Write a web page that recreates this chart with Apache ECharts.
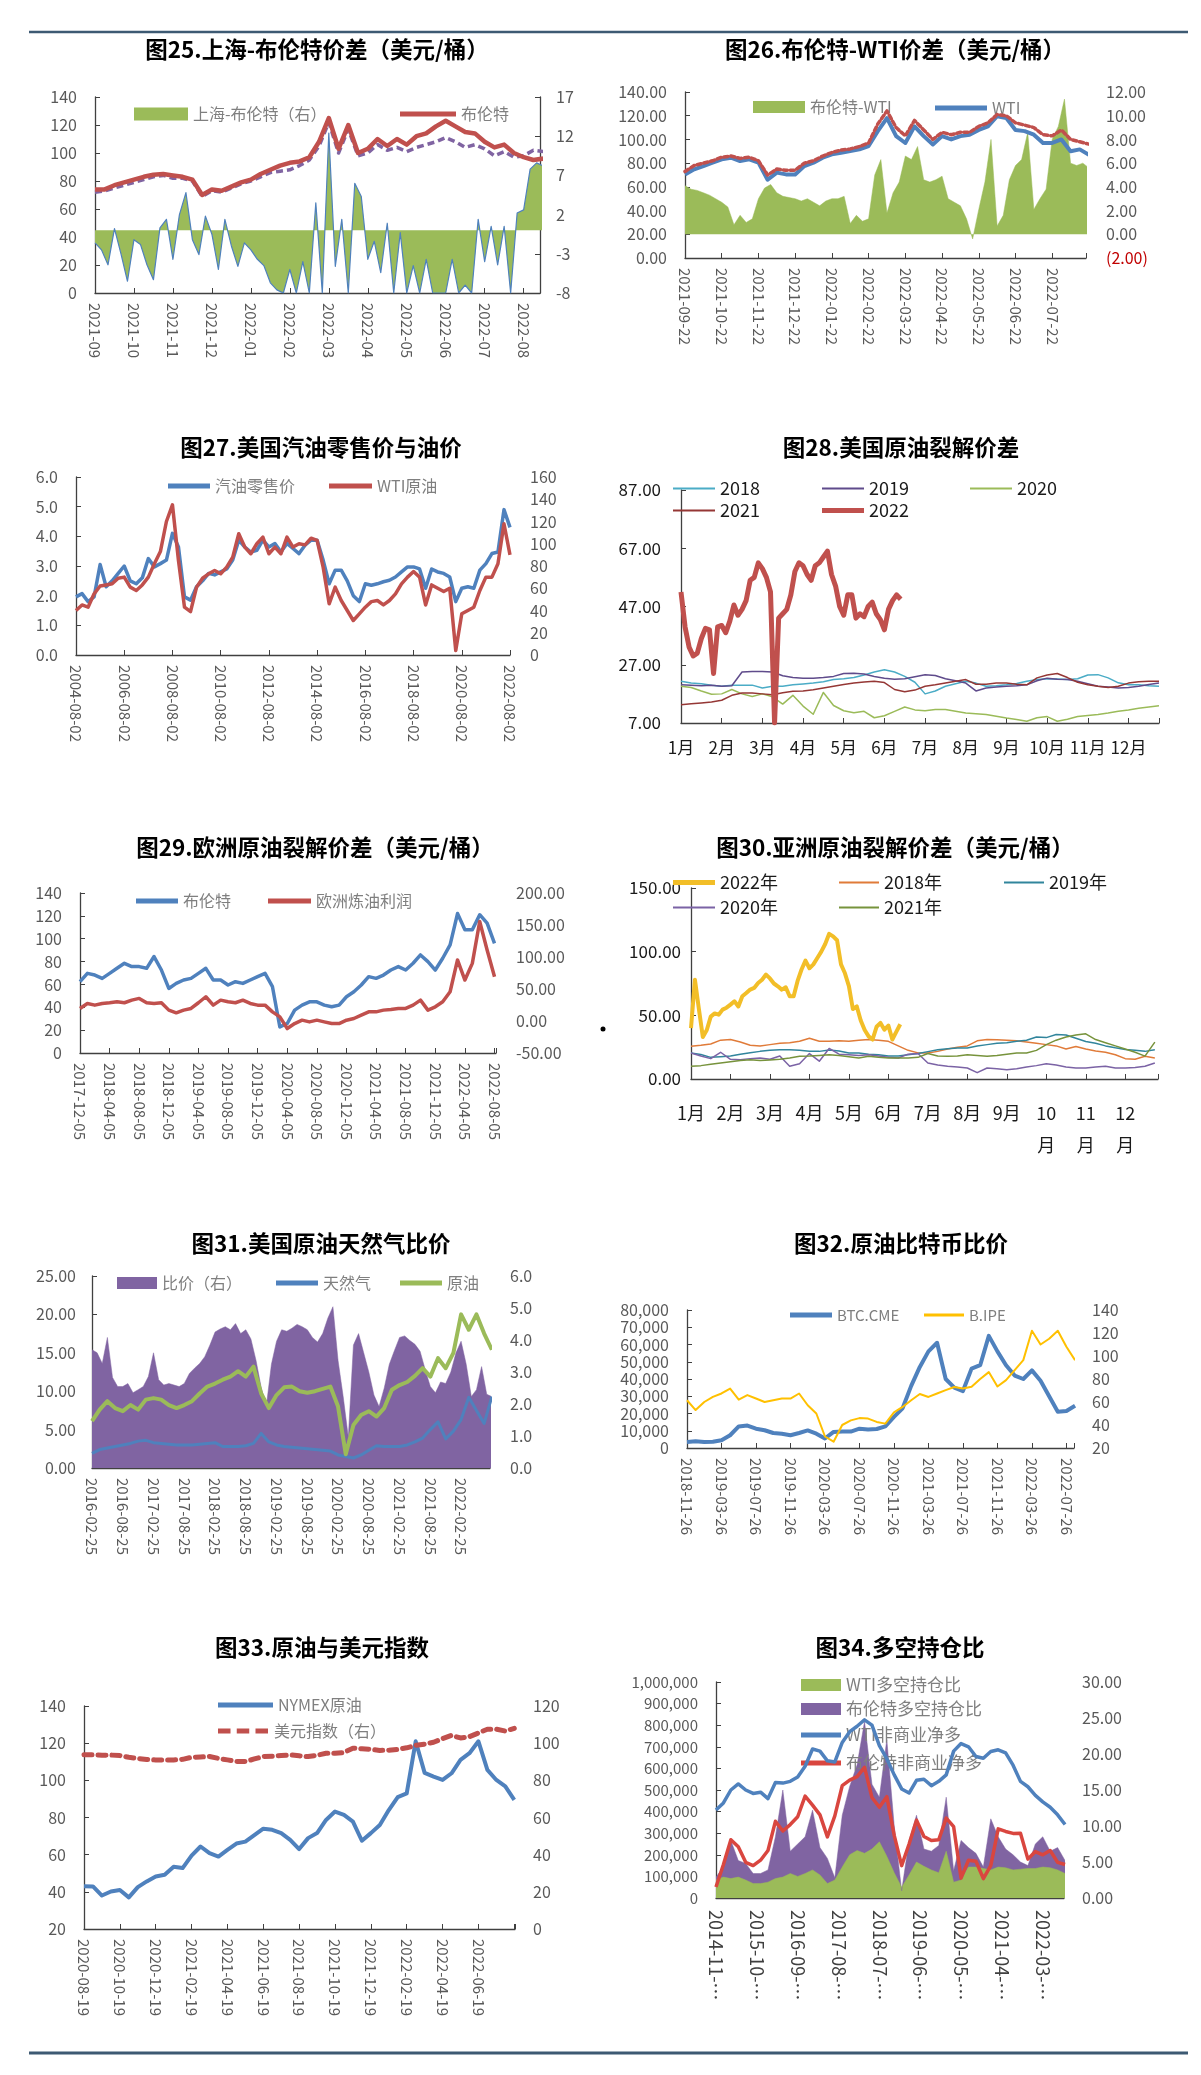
<!DOCTYPE html>
<html><head><meta charset="utf-8">
<script src="https://cdn.jsdelivr.net/npm/echarts@6/dist/echarts.min.js"></script>
<style>html,body{margin:0;padding:0;background:#fff}#c{width:1201px;height:2075px}</style>
</head><body><div id="c"></div>
<script>
// ================= DATA =================
// Chart 25 (x unit = 1 month from 2021-09)
const c25Labels = ['2021-09','2021-10','2021-11','2021-12','2022-01','2022-02','2022-03','2022-04','2022-05','2022-06','2022-07','2022-08'];
const c25Brent = [74,74,77,79,81,83,84.5,85,84,83,81,70,74,73,76,79,81,85,88,91,93,94,97,108,125,103,120,100,103,110,105,110,106,112,114,119,123,119,115,114,108,104,106,100,97,95,96]; // step 0.25
const c25Shanghai = [72,73,75,77,79,81,83,84,82,82,80,69,73,72,75,78,80,83,86,87,88,91,95,105,122,100,117,98,100,106,102,104,101,104,106,108,111,108,104,106,103,98,101,97,98,102,101]; // step 0.25
const c25Spread = [-1.6,-2.5,-4.4,0.2,-3,-6.5, -1.2,-1.8,-4.4,-6.3,0.3,1.4, -3.7,2,4.8,-1.2,-3.1,1.8, -0.5,-5,1.4,-2,-4.6,-1.6,
  -2.5,-3.7,-4.5,-6.7,-7.6,-8, -5,-8,-4,-8,3.5,-8, 12.4,-4.6,1.4,-8,6,4.3, -3.7,-1.4,-5.4,0.9,-8,-0.3,
  -8,-4.5,-8,-3.7,-8,-8, -8,-3.7,-8,-7,-8,1.4, -4,0.5,-4.4,0.5,-8,2.2, 2.6,7.8,8.6,8.2]; // step 1/6

// Chart 26
const c26Labels = ['2021-09-22','2021-10-22','2021-11-22','2021-12-22','2022-01-22','2022-02-22','2022-03-22','2022-04-22','2022-05-22','2022-06-22','2022-07-22'];
const c26WTI = [70.5,74.8,77.5,80.4,83.2,84.6,81.8,83.2,80.4,66,72,70.5,70.5,77.5,80.4,84.6,87.4,88.8,90.2,91.6,94.4,107,118,102.8,97,111,102.8,95.8,102.8,100,102.8,104,108,111,119.6,118,108,107,104,97,97,100,90,91.6,87];
const c26Brent = [73,78,80,82,85,86,84,85,82,70,75,74,74,80,82,86,89,91,92,94,97,113,124,110,103,116,108,100,106,104,106,106,111,114,121,120,114,112,110,104,103,108,100,98,96];
const c26Spread = [4.1,3.8,3.7,3.5,3.3,3,2.7,2.3,0.8,1.6,1,1.3,3,3.9,4.2,3.5,3.2,3.1,3,2.8,3,2.7,2.4,2.8,3,3,3.2,0.9,1.6,1.1,1.3,5,6.3,1.8,3.5,4.4,6.6,6.3,7.4,4.6,4.4,4.6,4.9,3,2.7,2.4,1.3,-0.4,2.1,4.4,8,0.7,1.6,4.6,5.8,6.3,8.6,2.1,3,3.8,8,9.1,11.4,6,5.8,6,5.6];

// Chart 27 (x unit = 2 years, data quarterly)
const c27Labels = ['2004-08-02','2006-08-02','2008-08-02','2010-08-02','2012-08-02','2014-08-02','2016-08-02','2018-08-02','2020-08-02','2022-08-02'];
const c27Gas = [1.96,2.07,1.8,1.96,3.05,2.3,2.5,2.75,3.0,2.5,2.4,2.6,3.25,2.97,3.08,3.2,4.1,3.64,1.96,1.85,2.3,2.5,2.75,2.7,2.8,2.9,3.2,3.87,3.64,3.47,3.53,3.87,3.64,3.76,3.47,3.76,3.59,3.42,3.7,3.87,3.87,3.2,2.4,2.86,2.86,2.5,2.0,1.8,2.4,2.35,2.4,2.47,2.52,2.63,2.8,2.97,2.97,2.9,2.25,2.9,2.8,2.75,2.63,1.8,2.25,2.3,2.25,2.86,3.08,3.42,3.47,4.9,4.3];
const c27WTI = [40,45,43,55,62,63,64,69,70,61,58,63,70,82,93,120,135,85,43,39,61,69,73,76,73,79,88,109,97,91,100,106,91,97,91,106,97,100,99,105,103,79,46,61,49,40,31,37,43,48,49,45,49,55,64,70,75,70,45,63,60,57,60,4,37,40,43,58,70,70,82,118,90];

// Chart 28 (x unit = month)
const c28Months = ['1月','2月','3月','4月','5月','6月','7月','8月','9月','10月','11月','12月'];
const c28y2018 = [21.3,20.7,20.5,20,19.6,20,20,20,19,19.6,19.6,20.1,20.4,20.7,21.2,21.9,22.2,22.6,23.5,24.5,25.3,24.5,23,21,17,18,19.6,20.5,21.3,20.7,19.6,19.8,20.1,20.6,21.3,21.9,22.2,22.1,21.9,22.2,23.5,23.6,22.5,20.8,20.1,20.1,19.8,19.6];
const c28y2019 = [20.1,20,19.8,20,19.6,19.8,24.5,24.7,24.7,24.5,23.2,22.6,22.4,22.4,22.6,23,24,24.1,23.8,23,22.4,22,22.2,22.9,23.6,23.3,22.2,21.5,20.7,18,19,19.4,19.6,19.8,20.1,21.5,22.4,22,21.9,21.3,20.5,19.6,19.4,19,19.2,19.6,20.2,20.7];
const c28y2020 = [19.6,19.2,18,16.9,17,18.5,17,16.1,17,16,13.5,16.5,12.8,10,17.5,13,11.2,10.5,11,8.8,9.5,11,12.5,11.5,11.2,11.6,11.6,11,10.4,10.2,9.9,9.3,8.7,8.2,7.6,8.8,9.2,7.6,8.3,9.2,9.6,9.9,10.4,11,11.5,12.1,12.5,12.9];
const c28y2021 = [13.3,13.6,13.9,14.2,14.8,16.5,17.3,17.3,17,16.7,17.4,17.9,18,18.4,19,19.6,20.2,20.7,21.1,21.3,20.9,18.5,17.7,18.3,19.6,20.1,20.7,21.3,21.9,20.3,20.3,20.7,20.7,20.3,20.1,22.5,23.5,24,22.6,21,20.1,19.6,19.2,19.6,20.7,21.2,21.3,21.3];
const c28y2022 = [52,40,33,30,31,36,39.5,39,24,40,40.5,38,42,47.5,44,46,49,56,57,62,60,57,52,7,43,44.5,46,51,59,62,61,58,56,61,62,64,66,58,54,47,44,51,51,43,44.5,43.5,47,48.5,44.5,42.5,39,46,49,51,49.5]; // step 0.1

// Chart 29 (x unit = 4 months, data monthly)
const c29Labels = ['2017-12-05','2018-04-05','2018-08-05','2018-12-05','2019-04-05','2019-08-05','2019-12-05','2020-04-05','2020-08-05','2020-12-05','2021-04-05','2021-08-05','2021-12-05','2022-04-05','2022-08-05'];
const c29Brent = [62.4,69.7,68.2,65.3,69.7,74.1,78.5,75.6,75.6,74.1,84.4,72.6,56.5,60.9,63.9,65.3,69.7,74.1,63.9,63.9,59.5,62.4,60.9,63.9,66.8,69.7,58,22.8,25.8,37.5,41.9,44.8,44.8,41.9,40.4,41.9,49.2,53.6,59.5,66.8,65.3,68.2,72.6,75.6,72.6,78.5,85.8,80,72.6,82.9,94.6,122,107.8,107.8,121,113.6,96];
const c29Margin = [19.6,27.4,24.8,27.4,28.5,30,28.5,32.6,35.3,28.5,27.4,28.5,17,12.8,17,19.6,28.5,37.9,24.8,32.6,30,28.5,32.6,27.4,24.8,24.8,14.3,6.5,-11.8,-4,1.3,-1.4,1.3,-1.4,-4,-4,1.3,3.9,9.1,14.3,14.3,17,18,19.6,19.6,24.8,32.6,17,22.2,30,45.7,95.4,64,90,155.5,111,69.2];

// Chart 30 (x unit = month)
const c30Months = ['1月','2月','3月','4月','5月','6月','7月','8月','9月','10\n月','11\n月','12\n月'];
const c30y2022 = [40,78,55,33,38.5,49,51.5,50.5,54.5,56,58.4,61,57,65,67.5,70.2,71.5,75.4,78,82,79,75,72.8,70.2,72,65,65,77,86,93,87,90,95,100,106,114,112,109,90,83,73,55,57,46,38.5,33.5,31,41,44,38.7,42,31,37,43]; // step 0.1
const c30y2018 = [25.7,26.5,27.5,30.5,31,29,26.5,26,27,28,28.5,29.6,32,29.6,29.6,30,29.6,30.5,31,30.5,29.6,26,22.5,20.5,20.4,21.7,23.5,25,26,30,31,30.9,30.5,30,29,28,27,26,23.5,25.5,23.5,22,21,19,16,15.5,17.8,16.5];
const c30y2019 = [20.4,19.3,17,17.5,18,19.5,20.6,21.7,22.5,23,23,22.5,21.7,21.7,22.8,22,20.4,20.4,19.5,19,18,18,19,20,21.5,23,23.8,24.3,24.3,26,27,28,28.5,29.6,30.5,33,32.5,35,34.5,32,29.5,28,26,24.5,23.2,22.5,21.7,23];
const c30y2020 = [20.4,18,16,21,15.5,15.2,16,16.5,15.5,18,10,12,20,14,24,19.5,19,18.5,19,18,17,16.5,19.5,20,12.6,11,10,9.5,8.6,5,8.6,8,7.3,8,9.5,10.5,12,11,9.5,8.6,8.6,9.5,10,8.6,8.6,9,10,12.6];
const c30y2021 = [10,10.5,11.5,12.6,13.5,14.5,15.2,14.5,15,15.5,16.5,17.8,18,18.5,19,18.5,17.5,16.5,17.8,17,16.5,16.5,16.5,17,20,18,17.8,18,19,18.5,17.8,18.5,19.5,20.4,20.4,22.5,27,30.5,33,34.5,35.5,31,28.5,26,23.5,21,18,29];

// Chart 31 (x unit = 6 months)
const c31Labels = ['2016-02-25','2016-08-25','2017-02-25','2017-08-25','2018-02-25','2018-08-25','2019-02-25','2019-08-25','2020-02-25','2020-08-25','2021-02-25','2021-08-25','2022-02-25'];
const c31Ratio = [15.4,15,13.6,17,11.8,10.6,10.6,11,9.8,10.2,10.6,11.9,15,11.5,10.8,11,10.8,10.6,11,12.3,13,13.6,14.5,16,17.7,18.1,18.4,18,18.8,17.5,18,16.8,14,10.5,8,13.5,16.5,18,17.8,18.2,18.7,18.4,18,17,16.4,17.5,19.5,21,14,9.3,4,16,17.5,15,12.5,9.5,8,10.4,13.5,15.3,17,17.2,16.6,16.1,15.2,12.8,10.6,9.8,11.2,11,12.5,15,16.5,13.5,9.3,10.2,13.2,9.6,9.3]; // monthly
const c31Gas = [1.9,2.4,2.6,2.8,3,3.2,3.5,3.6,3.3,3.2,3.1,3,3,3,3.1,3.2,3.3,2.8,2.8,2.8,2.9,3.2,4.5,3.4,3,2.8,2.7,2.6,2.5,2.4,2.3,2.2,1.7,1.5,1.3,1.7,2.3,2.9,2.8,2.8,2.8,3,3.4,3.9,5,6,3.8,4.8,6.3,9.2,7.5,5.8,9.3];
const c31Oil = [6.1,7.6,8.7,7.8,7.4,8.2,7.6,8.9,9.1,8.9,8.2,7.8,8.2,8.7,9.7,10.6,11,11.5,11.9,12.6,11.9,13.2,9.7,7.8,9.5,10.5,10.6,10,9.8,10,10.3,10.6,8,1.8,5.6,6.9,7.4,6.7,7.8,10.2,10.8,11.2,12,13,11.9,14.3,13,15,20,18,20,17.5,15.4];

// Chart 32 (x unit = 4 months, data monthly)
const c32Labels = ['2018-11-26','2019-03-26','2019-07-26','2019-11-26','2020-03-26','2020-07-26','2020-11-26','2021-03-26','2021-07-26','2021-11-26','2022-03-26','2022-07-26'];
const c32BTC = [3500,3900,3500,3600,4500,7400,12500,13000,11200,10300,8700,8300,7400,8700,10200,8300,5500,9300,9600,9500,11200,10700,11000,12500,18000,23000,36000,47000,56000,61000,40000,35000,33000,46000,48000,65000,56000,48000,42000,40000,45000,39000,30000,21000,21500,24500];
const c32Brent = [61.5,53,60,64.4,67.4,71.7,62,66,63,60,61.5,63,63,67.4,57.2,50,30,25.5,40,44,46,45.6,42.7,41.2,51,55.7,61.5,67,64.4,67.4,70.3,73,71.7,73.2,80,86,73.5,79,87.7,96.4,122,110,115,122,108,96.4];

// Chart 33 (x unit = 2 months, data half-monthly)
const c33Labels = ['2020-08-19','2020-10-19','2020-12-19','2021-02-19','2021-04-19','2021-06-19','2021-08-19','2021-10-19','2021-12-19','2022-02-19','2022-04-19','2022-06-19'];
const c33Oil = [43,42.9,38,40.2,41,37,42.5,45.6,48.3,49.2,53.5,52.8,59.5,64.4,60.8,59,62.6,66,67,70.5,74,73.4,71.6,68,63,68.9,71.6,78.7,83.2,81.4,77.8,67.5,71.6,76,84,91,93,121,104,102,100.2,103.8,111,114.6,121,105.6,100.2,96.7,89.5];
const c33DXY = [93.7,93.8,93.5,93.6,93.3,92.4,91.8,91.2,91,91,91,91.3,92.4,92.6,92.8,91.8,91,90.2,90.1,91.5,92.8,93,93.3,93.7,93.2,92.8,93.5,94.6,94.6,95,97.3,97,96.7,96.1,96.2,96.7,97.5,98.8,99.5,100.5,102.4,104.2,102.8,103.5,105.5,107.5,107.5,106.5,108];

// Chart 34 (x unit = 11 months, data every 2 months)
const c34Labels = ['2014-11-…','2015-10-…','2016-09-…','2017-08-…','2018-07-…','2019-06-…','2020-05-…','2021-04-…','2022-03-…'];
const c34WTIRatio = [2.5,2.9,2.7,2.9,2.5,2,2,2.2,2.7,2.9,3.4,3,3.4,3.9,3.2,2,2.5,4.3,6,6.6,6.2,6.8,7.8,5.8,3.5,1.5,3.2,5,4.4,3.9,3.5,6.5,2.2,2.5,4.3,4.3,4.1,3.9,4.3,4.2,3.9,4,4.1,4.1,4.3,4.2,3.9,3.4];
const c34BrentRatio = [2.9,4.3,8,5.2,4.8,3.4,3.4,3.9,8.5,15,6.5,7.5,8.5,12.2,7,5.5,2.8,11.5,15.5,18.5,24.5,15.8,14,22,10,1,8,11.5,6.8,6.5,7.3,14,3.8,8,7,6.2,4.3,11,8.5,6.8,6,5,4.5,7.5,8.5,6.5,7,5.2];
const c34WTINet = [407000,440000,500000,528000,500000,484000,490000,460000,535000,532000,540000,560000,610000,690000,680000,635000,630000,720000,770000,795000,825000,800000,705000,645000,570000,505000,486000,545000,550000,520000,540000,570000,680000,715000,700000,655000,647000,678000,686000,672000,615000,540000,515000,475000,445000,420000,385000,340000];
const c34BrentNet = [51000,155000,270000,237000,165000,150000,175000,220000,355000,310000,340000,376000,472000,430000,385000,283000,380000,520000,546000,562000,605000,465000,420000,469000,290000,150000,250000,360000,285000,266000,270000,370000,330000,92000,175000,170000,90000,150000,320000,308000,299000,300000,180000,215000,200000,220000,165000,155000];

// ================= BUILD =================
const FONT = '"Noto Sans CJK SC", "Noto Sans", sans-serif';
const AX = '#404040', LBL = '#595959', DARK = '#1a1a1a', LEGC = '#7f7f7f';
const BLUE = '#4F81BD', RED = '#C0504D', GREEN = '#9BBB59', PURPLE = '#8064A2';
const opt = {animation: false, textStyle: {fontFamily: FONT}, grid: [], xAxis: [], yAxis: [], series: [], legend: [], graphic: []};

const xy = (arr, step) => arr.map((v, i) => [i * step, v]);
const labelFmt = labels => v => { const r = Math.round(v); return (Math.abs(v - r) < 1e-6 && labels[r] !== undefined) ? labels[r] : ''; };

function addGrid(left, top, width, height) { opt.grid.push({left, top, width, height, containLabel: false}); return opt.grid.length - 1; }
function addY(gi, pos, min, max, interval, o) {
  o = o || {};
  const showLine = !!o.line;
  opt.yAxis.push({type: 'value', gridIndex: gi, position: pos, min, max, interval,
    axisLine: {show: showLine, lineStyle: {color: AX, width: 1.3}},
    axisTick: {show: showLine, inside: true, length: 5, lineStyle: {color: AX}},
    splitLine: {show: false},
    axisLabel: {margin: o.margin || 16, fontSize: o.fs || 16, color: o.color || LBL, fontFamily: FONT, formatter: o.fmt}});
  return opt.yAxis.length - 1;
}
function addX(gi, max, fmt, o) {
  o = o || {};
  opt.xAxis.push({type: 'value', gridIndex: gi, min: 0, max, interval: 1,
    axisLine: {show: true, onZero: false, lineStyle: {color: AX, width: 1.3}},
    axisTick: {show: true, inside: true, length: 5, lineStyle: {color: AX}},
    splitLine: {show: false},
    axisLabel: {rotate: (o.rotate === undefined ? -90 : o.rotate), margin: o.margin || 10, fontSize: o.fs || 15,
      color: o.color || LBL, fontFamily: FONT, lineHeight: o.lh, formatter: fmt, showMaxLabel: true}});
}
function addLine(gi, yi, name, data, color, width, o) {
  o = o || {};
  const s = {type: 'line', name, xAxisIndex: gi, yAxisIndex: yi, data, symbol: 'none', showSymbol: false, silent: true,
    clip: true, z: o.z || 2, color: o.fill || color,
    lineStyle: {color, width, type: o.dash || 'solid', cap: o.cap || 'butt', join: 'round'}};
  if (o.area) s.areaStyle = {color: o.area, opacity: 1, origin: 'auto'};
  opt.series.push(s);
}
function leg(name, x, yc, w, h, icon, fs, color) {
  const bh = Math.max(h, Math.round(fs * 1.25));
  opt.legend.push({left: x, top: yc - bh / 2, padding: 0, itemGap: 0, itemWidth: w, itemHeight: h, selectedMode: false,
    data: [{name, icon}], formatter: n => n.split('#')[0],
    textStyle: {fontSize: fs, color, fontFamily: FONT}, itemStyle: {borderWidth: 0}});
}
function title(text, cx, cy) {
  opt.graphic.push({type: 'text', x: cx, y: cy, silent: true, z: 10,
    style: {text, fill: '#000', fontSize: 22.5, fontWeight: 'bold', fontFamily: FONT,
      align: 'center', verticalAlign: 'middle', textAlign: 'center', textVerticalAlign: 'middle'}});
}
const f2 = v => Number(v).toFixed(2);
const f1 = v => Number(v).toFixed(1);
const comma = v => Number(v).toLocaleString('en-US');
const DASH_ICON = 'path://M0,0h10v4h-10z M15,0h10v4h-10z M30,0h10v4h-10z';

// ---- Chart 25 ----
{
  const g = addGrid(95, 97, 445, 196);
  addX(g, 11.42, labelFmt(c25Labels));
  const yl = addY(g, 'left', 0, 140, 20, {line: true, margin: 18});
  const yr = addY(g, 'right', -8, 17, 5, {line: true, margin: 16});
  addLine(g, yr, '上海-布伦特（右）#25', xy(c25Spread, 1 / 6), BLUE, 1.2, {area: GREEN, fill: GREEN});
  addLine(g, yl, '上海#25', xy(c25Shanghai, 0.25), PURPLE, 3.5, {dash: [7, 4], z: 5});
  addLine(g, yl, '布伦特#25', xy(c25Brent, 0.25), RED, 4.5, {z: 5});
  leg('上海-布伦特（右）#25', 134, 116, 54, 13, 'rect', 16, LEGC);
  leg('布伦特#25', 400, 116, 56, 5, 'rect', 16, LEGC);
  title('图25.上海-布伦特价差（美元/桶）', 317, 49);
}
// ---- Chart 26 ----
{
  const g = addGrid(685, 92, 401, 166);
  addX(g, 10.92, labelFmt(c26Labels));
  const yl = addY(g, 'left', 0, 140, 20, {line: true, fmt: f2, margin: 18});
  const yr = addY(g, 'right', -2, 12, 2, {margin: 20,
    fmt: v => Number(v) < 0 ? '(' + (-Number(v)).toFixed(2) + ')' : Number(v).toFixed(2),
    color: v => Number(v) < 0 ? '#C00000' : LBL});
  addLine(g, yr, '布伦特-WTI#26', xy(c26Spread, 1 / 6), GREEN, 0.5, {area: GREEN});
  addLine(g, yl, '布伦特#26', xy(c26Brent, 0.25), RED, 3.5, {dash: [4, 3], cap: 'round', z: 4});
  addLine(g, yl, 'WTI#26', xy(c26WTI, 0.25), BLUE, 4, {z: 3});
  leg('布伦特-WTI#26', 753, 109, 52, 12, 'rect', 16, LEGC);
  leg('WTI#26', 935, 110, 52, 5, 'rect', 16, LEGC);
  title('图26.布伦特-WTI价差（美元/桶）', 895, 49);
}
// ---- Chart 27 ----
{
  const g = addGrid(76, 477, 434, 178);
  addX(g, 9, labelFmt(c27Labels));
  const yl = addY(g, 'left', 0, 6, 1, {line: true, fmt: f1, margin: 18});
  const yr = addY(g, 'right', 0, 160, 20, {margin: 20});
  addLine(g, yl, '汽油零售价#27', xy(c27Gas, 0.125), BLUE, 3.5);
  addLine(g, yr, 'WTI原油#27', xy(c27WTI, 0.125), RED, 3.5);
  leg('汽油零售价#27', 168, 488, 42, 5, 'rect', 16, LEGC);
  leg('WTI原油#27', 329, 488, 43, 5, 'rect', 16, LEGC);
  title('图27.美国汽油零售价与油价', 321, 447);
}
// ---- Chart 28 ----
{
  const g = addGrid(681, 490, 478, 233);
  addX(g, 11.75, labelFmt(c28Months), {rotate: 0, fs: 17, color: DARK, margin: 16});
  const yl = addY(g, 'left', 7, 87, 20, {line: true, fmt: f2, fs: 17, color: DARK, margin: 20});
  addLine(g, yl, '2018#28', xy(c28y2018, 0.25), '#4BACC6', 1.5);
  addLine(g, yl, '2019#28', xy(c28y2019, 0.25), '#5F4B8B', 1.5);
  addLine(g, yl, '2020#28', xy(c28y2020, 0.25), '#9BBB59', 1.5);
  addLine(g, yl, '2021#28', xy(c28y2021, 0.25), '#953735', 1.5);
  addLine(g, yl, '2022#28', xy(c28y2022, 0.1), RED, 5);
  leg('2018#28', 673, 491, 42, 2, 'rect', 18, DARK);
  leg('2019#28', 822, 491, 42, 2, 'rect', 18, DARK);
  leg('2020#28', 970, 491, 42, 2, 'rect', 18, DARK);
  leg('2021#28', 673, 513, 42, 2, 'rect', 18, DARK);
  leg('2022#28', 822, 513, 42, 5, 'rect', 18, DARK);
  title('图28.美国原油裂解价差', 901, 447);
}
// ---- Chart 29 ----
{
  const g = addGrid(80, 893, 416, 160);
  addX(g, 14.05, labelFmt(c29Labels));
  const yl = addY(g, 'left', 0, 140, 20, {line: true, margin: 18});
  const yr = addY(g, 'right', -50, 200, 50, {fmt: f2, margin: 20});
  addLine(g, yl, '布伦特#29', xy(c29Brent, 0.25), BLUE, 3.5);
  addLine(g, yr, '欧洲炼油利润#29', xy(c29Margin, 0.25), RED, 3.5);
  leg('布伦特#29', 136, 903, 42, 5, 'rect', 16, LEGC);
  leg('欧洲炼油利润#29', 268, 903, 43, 5, 'rect', 16, LEGC);
  title('图29.欧洲原油裂解价差（美元/桶）', 315, 847);
}
// ---- Chart 30 ----
{
  const g = addGrid(691, 888, 467, 191);
  addX(g, 11.83, labelFmt(c30Months), {rotate: 0, fs: 18, color: DARK, margin: 18, lh: 32});
  const yl = addY(g, 'left', 0, 150, 50, {line: true, fmt: f2, fs: 17, color: DARK, margin: 10});
  addLine(g, yl, '2018年#30', xy(c30y2018, 0.25), '#E07B39', 1.5);
  addLine(g, yl, '2019年#30', xy(c30y2019, 0.25), '#31859C', 1.5);
  addLine(g, yl, '2020年#30', xy(c30y2020, 0.25), '#7B63A5', 1.5);
  addLine(g, yl, '2021年#30', xy(c30y2021, 0.25), '#77933C', 1.5);
  addLine(g, yl, '2022年#30', xy(c30y2022, 0.1), '#F2BE28', 4);
  leg('2022年#30', 673, 885, 42, 5, 'rect', 18, DARK);
  leg('2018年#30', 839, 885, 40, 2, 'rect', 18, DARK);
  leg('2019年#30', 1004, 885, 40, 2, 'rect', 18, DARK);
  leg('2020年#30', 673, 910, 42, 2, 'rect', 18, DARK);
  leg('2021年#30', 839, 910, 40, 2, 'rect', 18, DARK);
  title('图30.亚洲原油裂解价差（美元/桶）', 895, 847);
  opt.graphic.push({type: 'circle', shape: {cx: 603, cy: 1029, r: 2.5}, style: {fill: '#000'}, silent: true});
}
// ---- Chart 31 ----
{
  const g = addGrid(92, 1276, 398, 192);
  addX(g, 12.94, labelFmt(c31Labels));
  const yl = addY(g, 'left', 0, 25, 5, {line: true, fmt: f2, margin: 16});
  const yr = addY(g, 'right', 0, 6, 1, {fmt: f1, margin: 20});
  addLine(g, yl, '比价（右）#31', xy(c31Ratio, 1 / 6), PURPLE, 0.5, {area: PURPLE});
  addLine(g, yl, '天然气#31', xy(c31Gas, 0.25), BLUE, 3);
  addLine(g, yl, '原油#31', xy(c31Oil, 0.25), GREEN, 4);
  leg('比价（右）#31', 117, 1285, 40, 12, 'rect', 16, LEGC);
  leg('天然气#31', 276, 1285, 42, 5, 'rect', 16, LEGC);
  leg('原油#31', 400, 1285, 42, 5, 'rect', 16, LEGC);
  title('图31.美国原油天然气比价', 321, 1243);
}
// ---- Chart 32 ----
{
  const g = addGrid(687, 1310, 387, 138);
  addX(g, 11.22, labelFmt(c32Labels));
  const yl = addY(g, 'left', 0, 80000, 10000, {line: true, fmt: comma, margin: 18});
  const yr = addY(g, 'right', 20, 140, 20, {margin: 18});
  addLine(g, yl, 'BTC.CME#32', xy(c32BTC, 0.25), BLUE, 4);
  addLine(g, yr, 'B.IPE#32', xy(c32Brent, 0.25), '#FFC000', 2);
  leg('BTC.CME#32', 790, 1317, 42, 5, 'rect', 15, LEGC);
  leg('B.IPE#32', 924, 1317, 40, 3, 'rect', 15, LEGC);
  title('图32.原油比特币比价', 901, 1243);
}
// ---- Chart 33 ----
{
  const g = addGrid(84, 1706, 431, 223);
  addX(g, 12.02, labelFmt(c33Labels));
  const yl = addY(g, 'left', 20, 140, 20, {line: true, margin: 18});
  const yr = addY(g, 'right', 0, 120, 20, {margin: 18});
  addLine(g, yl, 'NYMEX原油#33', xy(c33Oil, 0.25), BLUE, 4);
  addLine(g, yr, '美元指数（右）#33', xy(c33DXY, 0.25), RED, 5, {dash: [8, 6], cap: 'round'});
  leg('NYMEX原油#33', 218, 1707, 55, 5, 'rect', 16, LEGC);
  leg('美元指数（右）#33', 218, 1733, 52, 5, DASH_ICON, 16, LEGC);
  title('图33.原油与美元指数', 322, 1647);
}
// ---- Chart 34 ----
{
  const g = addGrid(716, 1682, 348, 216);
  addX(g, 8.52, labelFmt(c34Labels), {fs: 18, color: '#404040', margin: 12});
  const yl = addY(g, 'left', 0, 1000000, 100000, {line: true, fmt: comma, fs: 15, margin: 18});
  const yr = addY(g, 'right', 0, 30, 5, {fmt: f2, margin: 18});
  addLine(g, yr, '布伦特多空持仓比#34', xy(c34BrentRatio, 2 / 11), PURPLE, 0.5, {area: PURPLE});
  addLine(g, yr, 'WTI多空持仓比#34', xy(c34WTIRatio, 2 / 11), GREEN, 0.5, {area: GREEN});
  addLine(g, yl, 'WTI非商业净多#34', xy(c34WTINet, 2 / 11), BLUE, 3.5, {z: 6});
  addLine(g, yl, '布伦特非商业净多#34', xy(c34BrentNet, 2 / 11), '#D9463F', 3.5, {z: 6});
  leg('WTI多空持仓比#34', 801, 1687, 40, 12, 'rect', 17, LEGC);
  leg('布伦特多空持仓比#34', 801, 1711, 40, 12, 'rect', 17, LEGC);
  leg('WTI非商业净多#34', 801, 1737, 40, 5, 'rect', 17, LEGC);
  leg('布伦特非商业净多#34', 801, 1765, 40, 5, 'rect', 17, LEGC);
  title('图34.多空持仓比', 900, 1647);
}
// page rules
opt.graphic.push({type: 'line', shape: {x1: 29, y1: 32, x2: 1188, y2: 32}, style: {stroke: '#3d5a73', lineWidth: 2.5}, silent: true});
opt.graphic.push({type: 'line', shape: {x1: 29, y1: 2053, x2: 1188, y2: 2053}, style: {stroke: '#3d5a73', lineWidth: 3}, silent: true});

const chart = echarts.init(document.getElementById('c'), null, {renderer: 'canvas'});
chart.setOption(opt);
</script></body></html>
